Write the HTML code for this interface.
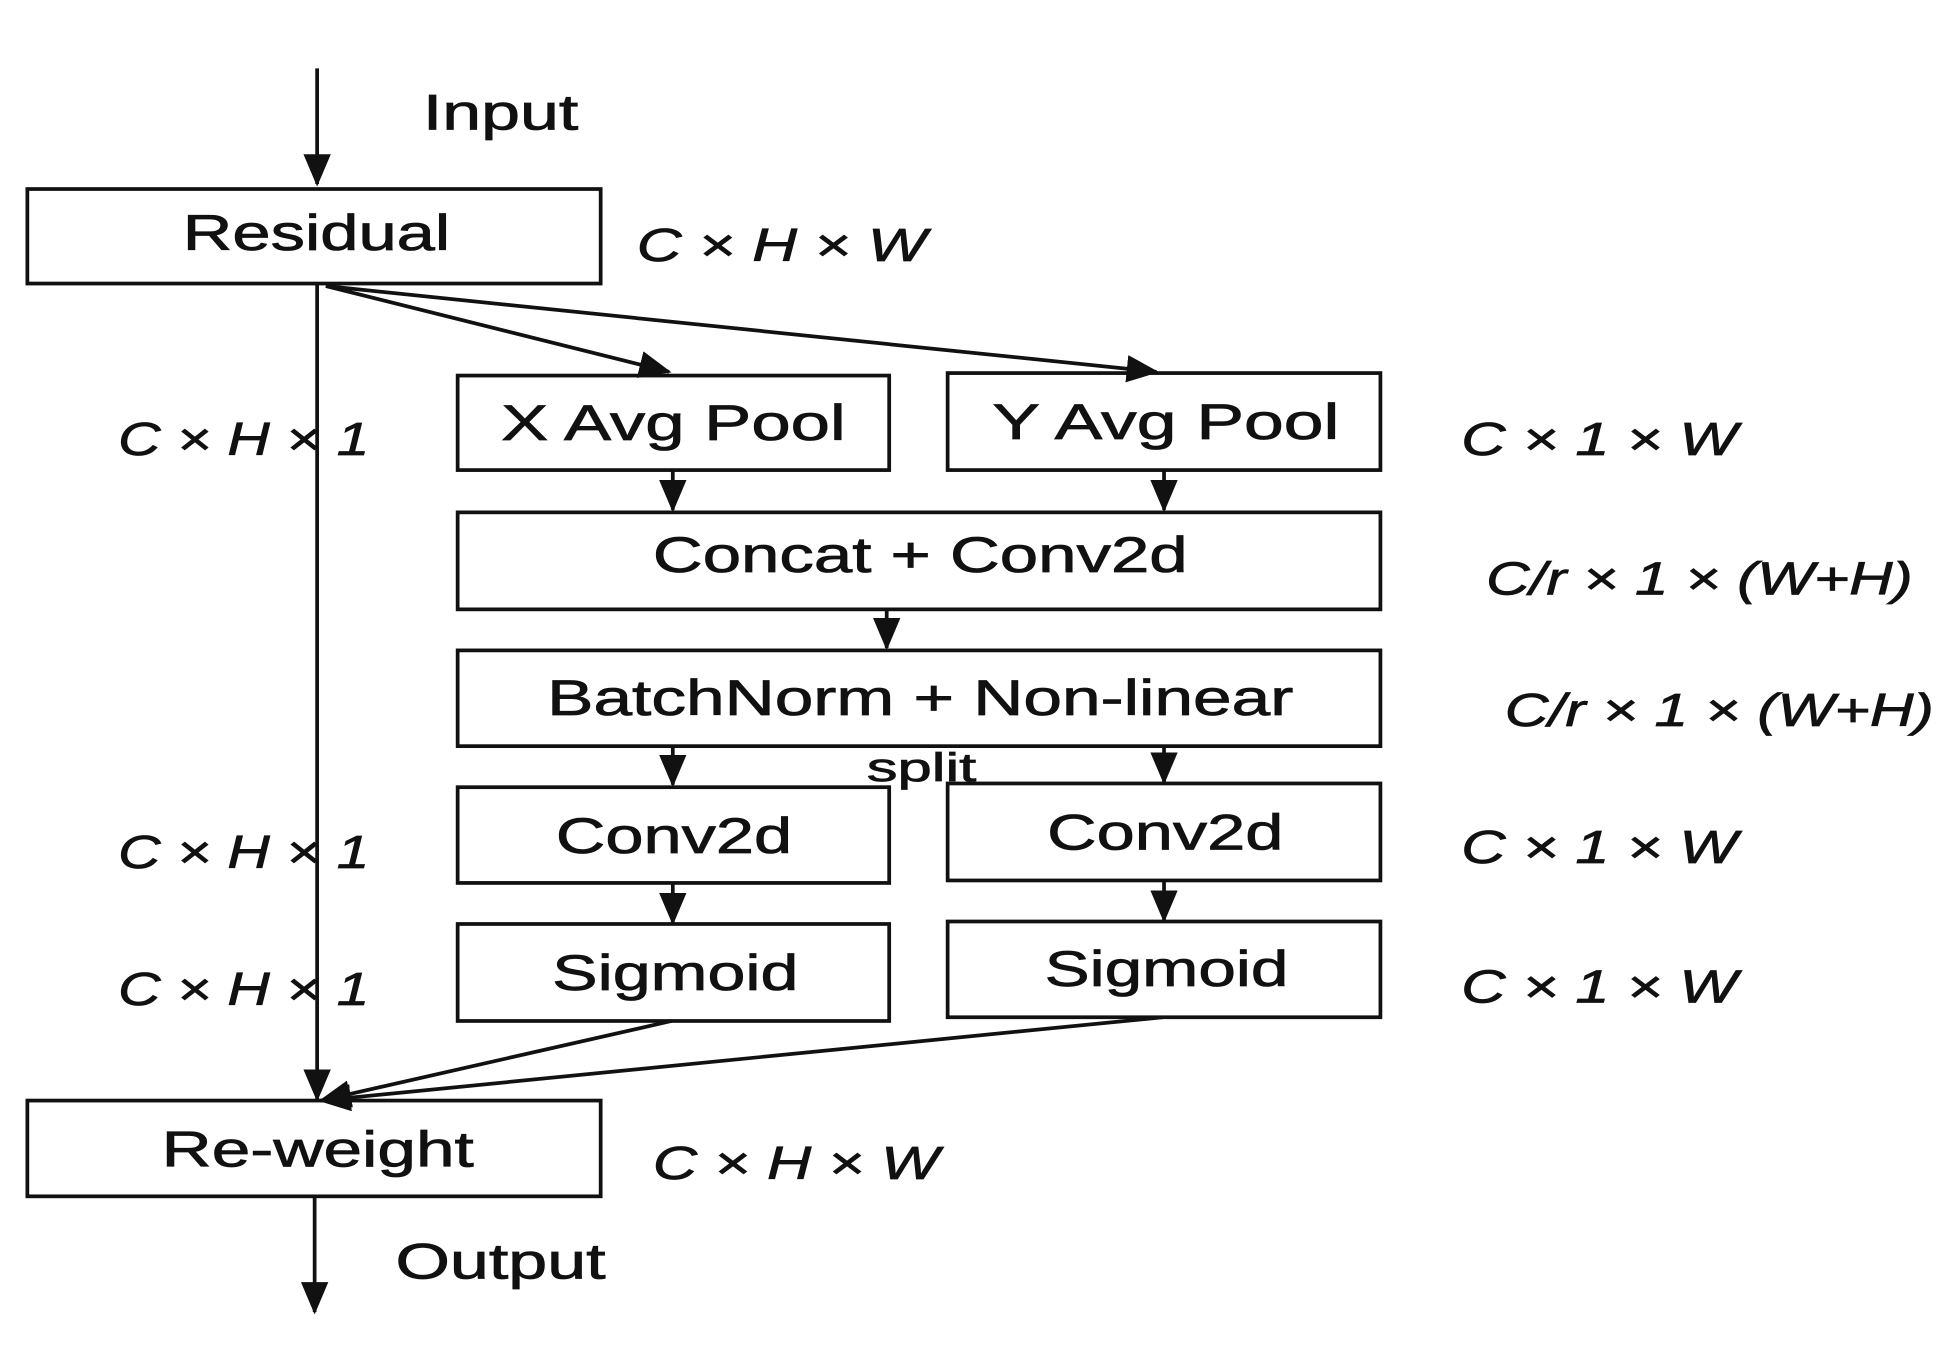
<!DOCTYPE html>
<html><head><meta charset="utf-8"><style>
html,body{margin:0;padding:0;background:#fff;}
svg{display:block;}
text{font-family:"Liberation Sans",Arial,sans-serif;fill:#111;stroke:#111;stroke-width:0.6;font-size:40px;}
.d{font-size:37px;font-style:italic;}
</style></head><body>
<svg width="1950" height="1356" viewBox="0 0 1568 1090.4" preserveAspectRatio="none" xmlns="http://www.w3.org/2000/svg">
<defs>
<marker id="b" markerWidth="26" markerHeight="22" refX="24" refY="11" orient="auto" markerUnits="userSpaceOnUse" viewBox="0 0 26 22"><path d="M0,0 L26,11 L0,22 z" fill="#111"/></marker></defs>
<g stroke="#111" stroke-width="3" fill="none">
<line x1="255" y1="55" x2="255" y2="148" marker-end="url(#b)"/>
<rect x="22" y="152" width="461" height="76"/>
<line x1="255" y1="228" x2="255" y2="884" marker-end="url(#b)"/>
<line x1="262" y1="230" x2="538" y2="299" marker-end="url(#b)"/>
<line x1="262" y1="230" x2="930" y2="299" marker-end="url(#b)"/>
<rect x="368" y="302" width="347" height="76"/>
<rect x="762" y="300" width="348" height="78"/>
<line x1="541" y1="378" x2="541" y2="410" marker-end="url(#b)"/>
<line x1="936" y1="378" x2="936" y2="410" marker-end="url(#b)"/>
<rect x="368" y="412" width="742" height="78"/>
<line x1="713" y1="490" x2="713" y2="521" marker-end="url(#b)"/>
<rect x="368" y="523" width="742" height="77"/>
<line x1="541" y1="600" x2="541" y2="631" marker-end="url(#b)"/>
<line x1="936" y1="600" x2="936" y2="629" marker-end="url(#b)"/>
<rect x="368" y="633" width="347" height="77"/>
<rect x="762" y="630" width="348" height="78"/>
<line x1="541" y1="710" x2="541" y2="742" marker-end="url(#b)"/>
<line x1="936" y1="708" x2="936" y2="740" marker-end="url(#b)"/>
<rect x="368" y="743" width="347" height="78"/>
<rect x="762" y="741" width="348" height="77"/>
<line x1="540" y1="821" x2="258" y2="885" marker-end="url(#b)"/>
<line x1="935" y1="818" x2="258" y2="885" marker-end="url(#b)"/>
<rect x="22" y="885" width="461" height="77"/>
<line x1="253" y1="962" x2="253" y2="1055" marker-end="url(#b)"/>
</g>
<g lengthAdjust="spacingAndGlyphs">
<text x="340" y="104" textLength="125" lengthAdjust="spacingAndGlyphs">Input</text>
<text x="147" y="201" textLength="215" lengthAdjust="spacingAndGlyphs">Residual</text>
<text class="d" x="512" y="210" textLength="233" lengthAdjust="spacingAndGlyphs">C × H × W</text>
<text x="403" y="354" textLength="277" lengthAdjust="spacingAndGlyphs">X Avg Pool</text>
<text x="798" y="353" textLength="279" lengthAdjust="spacingAndGlyphs">Y Avg Pool</text>
<text class="d" x="95" y="366" textLength="202" lengthAdjust="spacingAndGlyphs">C × H × 1</text>
<text class="d" x="1175" y="366" textLength="222" lengthAdjust="spacingAndGlyphs">C × 1 × W</text>
<text x="525" y="460" textLength="430" lengthAdjust="spacingAndGlyphs">Concat + Conv2d</text>
<text class="d" x="1195" y="478" textLength="343" lengthAdjust="spacingAndGlyphs">C/r × 1 × (W+H)</text>
<text x="440" y="575" textLength="600" lengthAdjust="spacingAndGlyphs">BatchNorm + Non-linear</text>
<text class="d" x="1210" y="584" textLength="345" lengthAdjust="spacingAndGlyphs">C/r × 1 × (W+H)</text>
<text x="697" y="628" style="font-size:32px" textLength="88" lengthAdjust="spacingAndGlyphs">split</text>
<text x="447" y="686" textLength="190" lengthAdjust="spacingAndGlyphs">Conv2d</text>
<text x="842" y="683" textLength="190" lengthAdjust="spacingAndGlyphs">Conv2d</text>
<text class="d" x="95" y="698" textLength="202" lengthAdjust="spacingAndGlyphs">C × H × 1</text>
<text class="d" x="1175" y="694" textLength="222" lengthAdjust="spacingAndGlyphs">C × 1 × W</text>
<text x="444" y="796" textLength="198" lengthAdjust="spacingAndGlyphs">Sigmoid</text>
<text x="840" y="793" textLength="196" lengthAdjust="spacingAndGlyphs">Sigmoid</text>
<text class="d" x="95" y="808" textLength="202" lengthAdjust="spacingAndGlyphs">C × H × 1</text>
<text class="d" x="1175" y="806" textLength="222" lengthAdjust="spacingAndGlyphs">C × 1 × W</text>
<text x="130" y="938" textLength="251" lengthAdjust="spacingAndGlyphs">Re-weight</text>
<text class="d" x="525" y="948" textLength="230" lengthAdjust="spacingAndGlyphs">C × H × W</text>
<text x="318" y="1028" textLength="169" lengthAdjust="spacingAndGlyphs">Output</text>
</g>
</svg>
</body></html>
